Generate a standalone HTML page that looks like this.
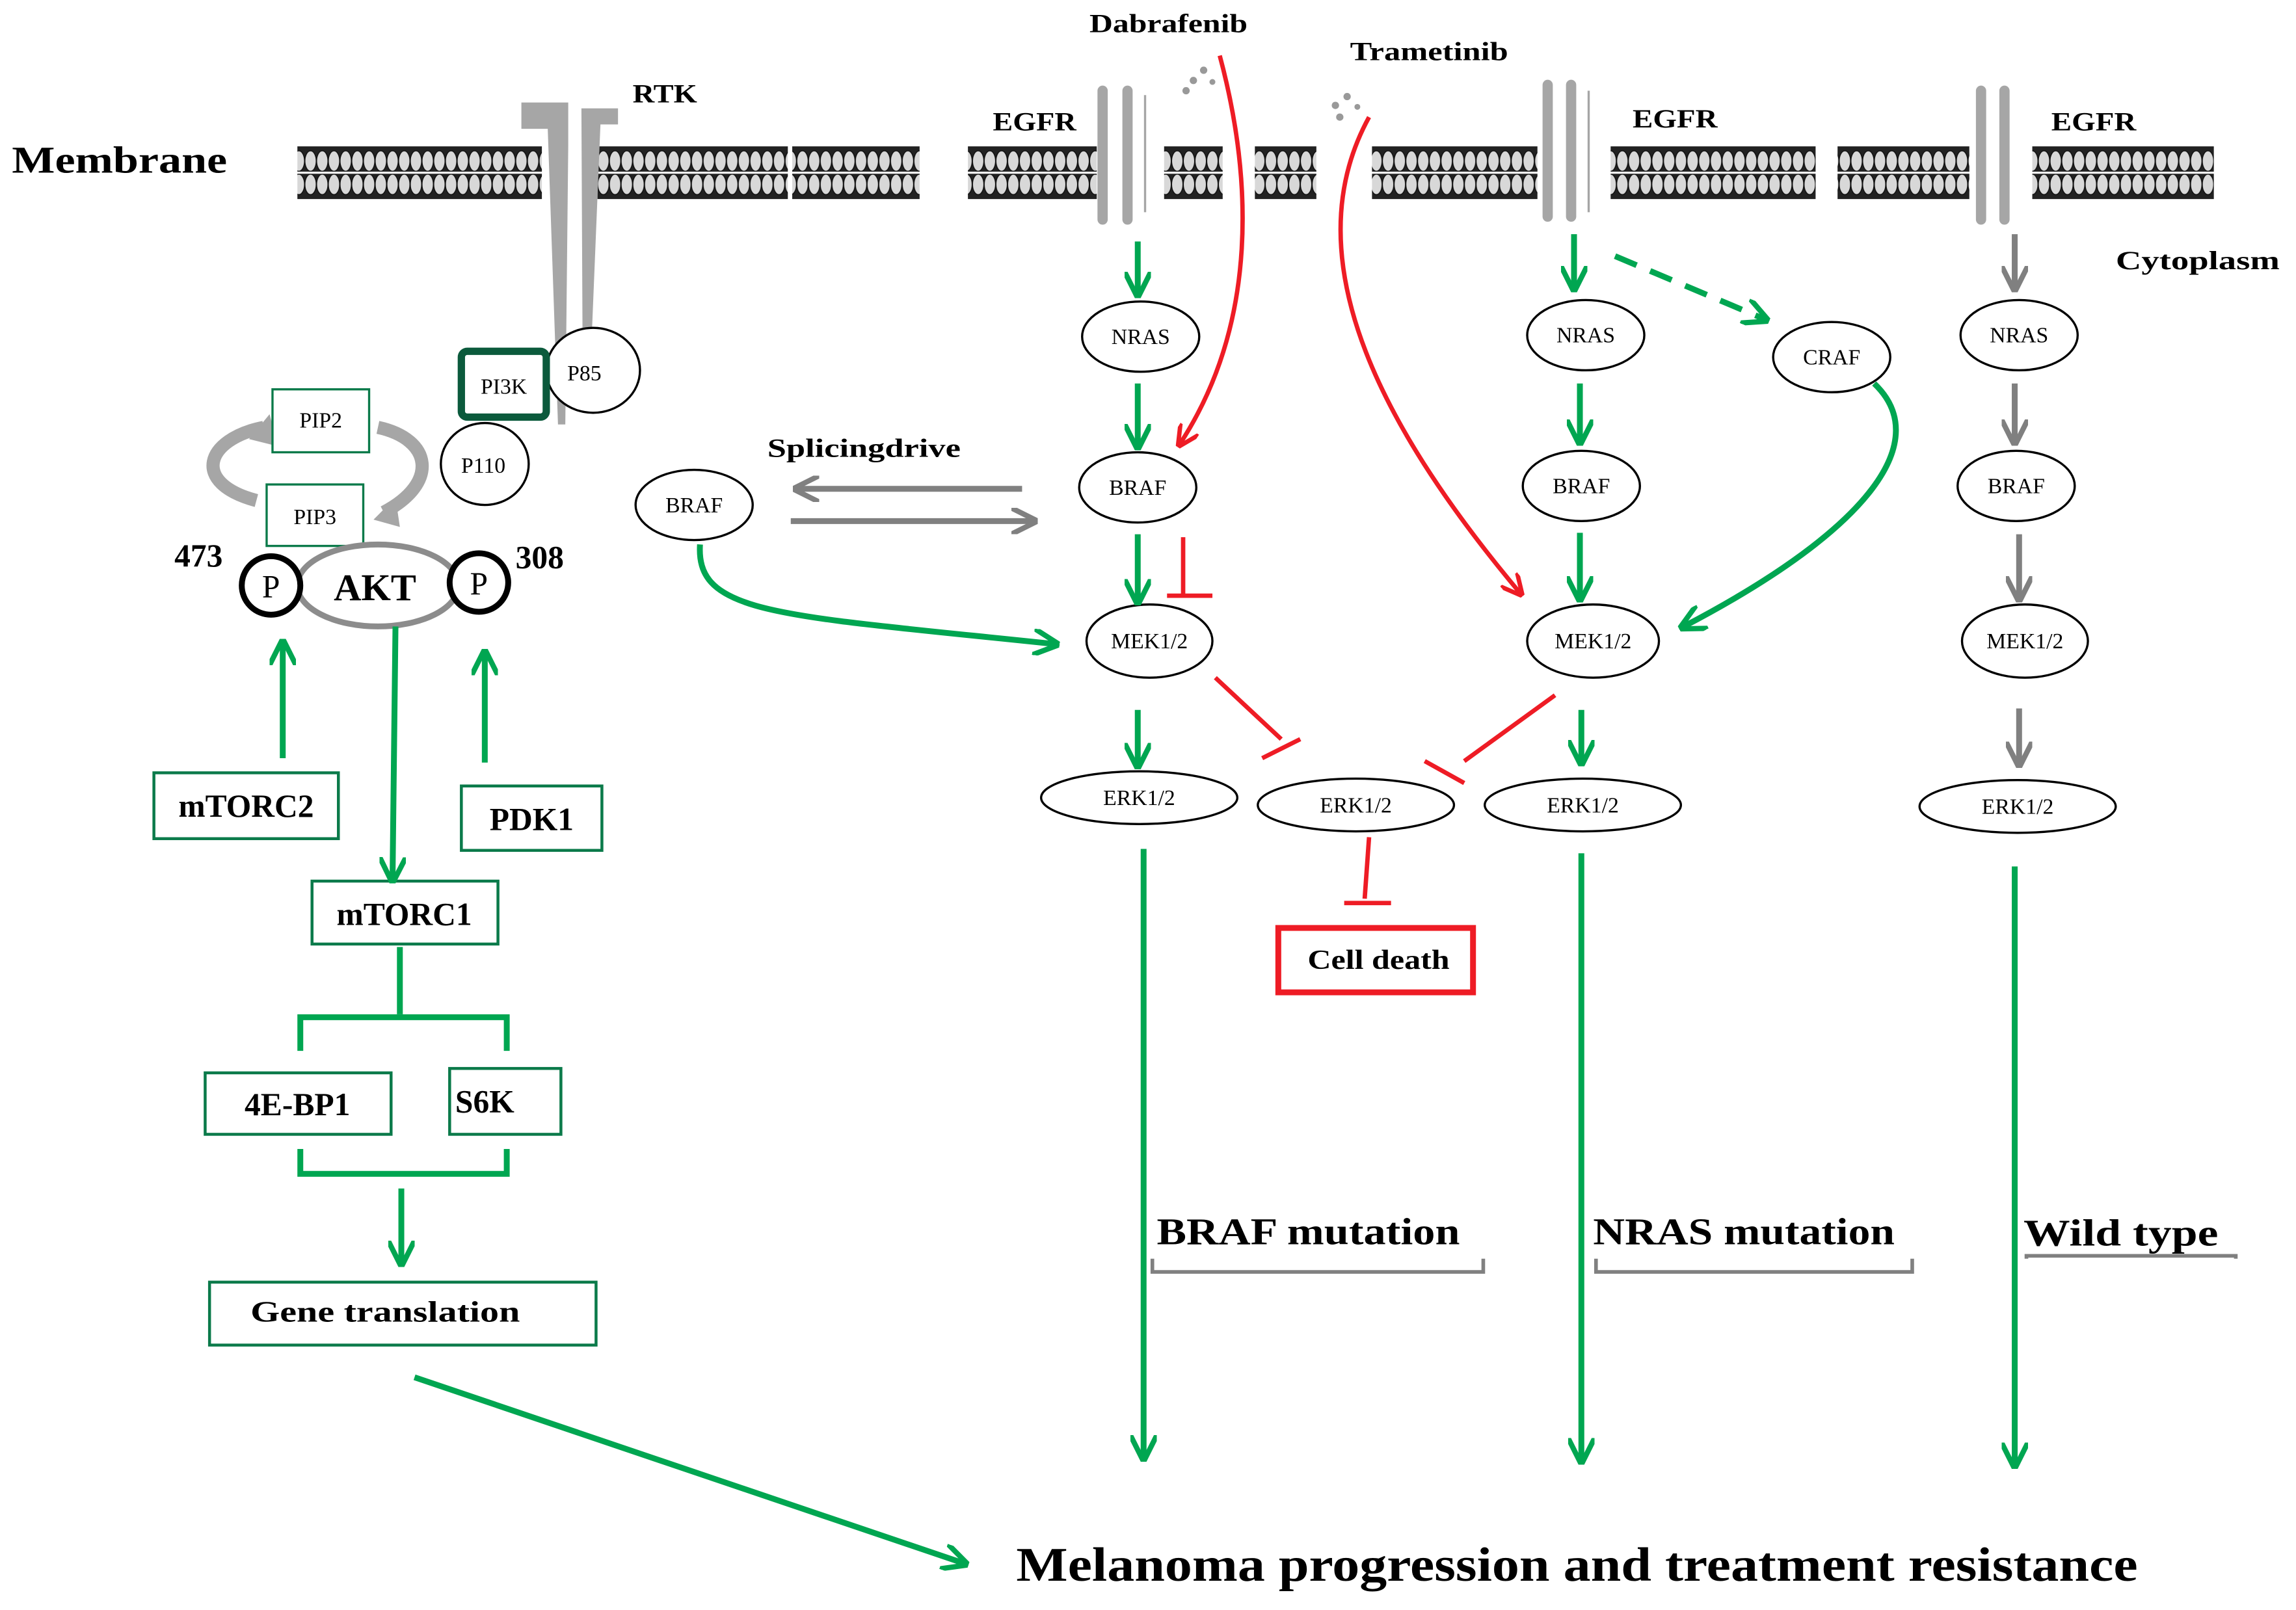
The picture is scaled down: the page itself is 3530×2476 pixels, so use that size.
<!DOCTYPE html>
<html><head><meta charset="utf-8"><style>html,body{margin:0;padding:0;background:#fff}svg{display:block}</style></head>
<body>
<svg width="3530" height="2476" viewBox="0 0 1568 1100" xmlns="http://www.w3.org/2000/svg" font-family="Liberation Serif, serif" font-weight="bold">
<defs>
<pattern id="mem" x="0" y="100" width="8" height="36" patternUnits="userSpaceOnUse">
<rect width="8" height="36" fill="#222"/>
<ellipse cx="4" cy="10" rx="3.9" ry="7" fill="#d8d8d8" stroke="#111" stroke-width="0.7"/>
<ellipse cx="4" cy="26" rx="3.9" ry="7" fill="#d8d8d8" stroke="#111" stroke-width="0.7"/>
<rect y="17.3" width="8" height="1.4" fill="#fff"/>
</pattern>
<marker id="ag" viewBox="0 0 10 10" refX="8" refY="5" markerWidth="4.5" markerHeight="4.5" orient="auto"><path d="M0,0 L10,5 L0,10" fill="none" stroke="#00a651" stroke-width="2"/></marker>
<marker id="agr" viewBox="0 0 10 10" refX="8" refY="5" markerWidth="4.5" markerHeight="4.5" orient="auto"><path d="M0,0 L10,5 L0,10" fill="none" stroke="#808080" stroke-width="2"/></marker>
<marker id="ar" viewBox="0 0 10 10" refX="8" refY="5" markerWidth="5" markerHeight="5" orient="auto"><path d="M0,0 L10,5 L0,10" fill="none" stroke="#ee1c25" stroke-width="2"/></marker>
</defs>
<g fill="url(#mem)">
<rect x="203" y="100" width="167" height="36"/><rect x="408" y="100" width="130" height="36"/><rect x="541" y="100" width="87" height="36"/>
<rect x="661" y="100" width="88" height="36"/><rect x="795" y="100" width="40" height="36"/><rect x="857" y="100" width="42" height="36"/>
<rect x="937" y="100" width="113" height="36"/><rect x="1100" y="100" width="140" height="36"/><rect x="1255" y="100" width="90" height="36"/><rect x="1388" y="100" width="124" height="36"/>
</g>
<g fill="#a6a6a6">
<path d="M356,70 H388 V100 L386,290 L381,290 L374,88 H356Z"/>
<path d="M397,74 H422 V85 H410 L402,280 L398,280 Z"/>
</g>
<g stroke="#a6a6a6" stroke-width="7" stroke-linecap="round"><line x1="753" y1="62" x2="753" y2="150"/><line x1="770" y1="62" x2="770" y2="150"/>
<line x1="1057" y1="58" x2="1057" y2="148"/><line x1="1073" y1="58" x2="1073" y2="148"/>
<line x1="1353" y1="62" x2="1353" y2="150"/><line x1="1369" y1="62" x2="1369" y2="150"/></g>
<g stroke="#a6a6a6" stroke-width="1.5"><line x1="782" y1="65" x2="782" y2="145"/><line x1="1085" y1="62" x2="1085" y2="145"/></g>
<g fill="#999"><circle cx="815" cy="55" r="2.5"/><circle cx="822" cy="48" r="2.5"/><circle cx="810" cy="62" r="2.5"/><circle cx="828" cy="56" r="2"/><circle cx="912" cy="72" r="2.5"/><circle cx="920" cy="66" r="2.5"/><circle cx="927" cy="73" r="2"/><circle cx="915" cy="80" r="2.5"/></g>
<g fill="#000" font-size="18" lengthAdjust="spacingAndGlyphs">
<text x="744" y="22" textLength="108" lengthAdjust="spacingAndGlyphs">Dabrafenib</text>
<text x="922" y="41" textLength="108" lengthAdjust="spacingAndGlyphs">Trametinib</text>
<text x="432" y="70" textLength="44" lengthAdjust="spacingAndGlyphs">RTK</text>
<text x="678" y="89" textLength="57" lengthAdjust="spacingAndGlyphs">EGFR</text>
<text x="1115" y="87" textLength="58" lengthAdjust="spacingAndGlyphs">EGFR</text>
<text x="1401" y="89" textLength="58" lengthAdjust="spacingAndGlyphs">EGFR</text>
<text x="1445" y="184" textLength="112" lengthAdjust="spacingAndGlyphs">Cytoplasm</text>
<text x="524" y="312" textLength="132" lengthAdjust="spacingAndGlyphs">Splicingdrive</text>
</g>
<text x="8" y="118" font-size="26" textLength="147" lengthAdjust="spacingAndGlyphs">Membrane</text>
<g fill="#fff" stroke="#000" stroke-width="1.5">
<ellipse cx="779" cy="230" rx="40" ry="24"/><ellipse cx="777" cy="333" rx="40" ry="24"/><ellipse cx="474" cy="345" rx="40" ry="24"/>
<ellipse cx="785" cy="438" rx="43" ry="25"/><ellipse cx="778" cy="545" rx="67" ry="18"/><ellipse cx="926" cy="550" rx="67" ry="18"/>
<ellipse cx="1083" cy="229" rx="40" ry="24"/><ellipse cx="1080" cy="332" rx="40" ry="24"/><ellipse cx="1088" cy="438" rx="45" ry="25"/><ellipse cx="1081" cy="550" rx="67" ry="18"/>
<ellipse cx="1251" cy="244" rx="40" ry="24"/>
<ellipse cx="1379" cy="229" rx="40" ry="24"/><ellipse cx="1377" cy="332" rx="40" ry="24"/><ellipse cx="1383" cy="438" rx="43" ry="25"/><ellipse cx="1378" cy="551" rx="67" ry="18"/>
<ellipse cx="405" cy="253" rx="32" ry="29"/><ellipse cx="331" cy="317" rx="30" ry="28"/>
</g>
<g font-size="15" text-anchor="middle" fill="#000" font-weight="normal">
<text x="779" y="235">NRAS</text><text x="777" y="338">BRAF</text><text x="474" y="350">BRAF</text><text x="785" y="443">MEK1/2</text><text x="778" y="550">ERK1/2</text><text x="926" y="555">ERK1/2</text>
<text x="1083" y="234">NRAS</text><text x="1080" y="337">BRAF</text><text x="1088" y="443">MEK1/2</text><text x="1081" y="555">ERK1/2</text><text x="1251" y="249">CRAF</text>
<text x="1379" y="234">NRAS</text><text x="1377" y="337">BRAF</text><text x="1383" y="443">MEK1/2</text><text x="1378" y="556">ERK1/2</text>
<text x="399" y="260">P85</text><text x="330" y="323">P110</text>
</g>
<rect x="315" y="240" width="58" height="45" rx="4" fill="#fff" stroke="#0b5a3c" stroke-width="5"/>
<text x="344" y="269" font-size="15" text-anchor="middle" font-weight="normal">PI3K</text>
<g fill="none" stroke="#a6a6a6" stroke-width="9">
<path d="M180,292 C140,300 130,330 175,342"/><path d="M258,292 C295,300 300,330 262,350"/></g>
<path d="M184,283 L170,300 L190,305Z" fill="#a6a6a6"/><path d="M255,355 L270,340 L273,360Z" fill="#a6a6a6"/>
<g fill="#fff" stroke="#0b7a4a" stroke-width="1.5"><rect x="186" y="266" width="66" height="43"/><rect x="182" y="331" width="66" height="42"/></g>
<g font-size="15" text-anchor="middle" font-weight="normal"><text x="219" y="292">PIP2</text><text x="215" y="358">PIP3</text></g>
<ellipse cx="258" cy="400" rx="55" ry="28" fill="#fff" stroke="#8c8c8c" stroke-width="4"/>
<text x="256" y="410" font-size="26" text-anchor="middle">AKT</text>
<g fill="#fff" stroke="#000" stroke-width="4"><circle cx="185" cy="400" r="20"/><circle cx="327" cy="398" r="20"/></g>
<g font-size="22" text-anchor="middle" font-weight="normal"><text x="185" y="408">P</text><text x="327" y="406">P</text></g>
<g font-size="22"><text x="119" y="387">473</text><text x="352" y="388">308</text></g>
<g fill="#fff" stroke="#0b7a4a" stroke-width="2">
<rect x="105" y="528" width="126" height="45"/><rect x="315" y="537" width="96" height="44"/><rect x="213" y="602" width="127" height="43"/>
<rect x="140" y="733" width="127" height="42"/><rect x="307" y="730" width="76" height="45"/><rect x="143" y="876" width="264" height="43"/>
</g>
<g font-size="22" text-anchor="middle"><text x="168" y="558">mTORC2</text><text x="363" y="567">PDK1</text><text x="276" y="632">mTORC1</text>
<text x="203" y="762">4E-BP1</text><text x="331" y="760">S6K</text></g>
<text x="171" y="903" font-size="20" textLength="184" lengthAdjust="spacingAndGlyphs">Gene  translation</text>
<g stroke="#00a651" stroke-width="4" fill="none">
<line x1="193" y1="518" x2="193" y2="440" marker-end="url(#ag)"/>
<line x1="331" y1="521" x2="331" y2="447" marker-end="url(#ag)"/>
<line x1="270" y1="428" x2="268" y2="600" marker-end="url(#ag)"/>
<line x1="273" y1="647" x2="273" y2="693"/>
<path d="M205,718 V695 H346 V718"/>
<path d="M205,785 V802 H346 V785"/>
<line x1="274" y1="812" x2="274" y2="862" marker-end="url(#ag)"/>
<line x1="283" y1="941" x2="658" y2="1068" marker-end="url(#ag)"/>
<path d="M478,372 C475,420 530,420 720,440" marker-end="url(#ag)"/>
<line x1="777" y1="165" x2="777" y2="200" marker-end="url(#ag)"/>
<line x1="777" y1="262" x2="777" y2="304" marker-end="url(#ag)"/>
<line x1="777" y1="365" x2="777" y2="410" marker-end="url(#ag)"/>
<line x1="777" y1="485" x2="777" y2="522" marker-end="url(#ag)"/>
<line x1="781" y1="580" x2="781" y2="995" marker-end="url(#ag)"/>
<line x1="1075" y1="160" x2="1075" y2="196" marker-end="url(#ag)"/>
<line x1="1079" y1="262" x2="1079" y2="301" marker-end="url(#ag)"/>
<line x1="1079" y1="364" x2="1079" y2="408" marker-end="url(#ag)"/>
<line x1="1080" y1="485" x2="1080" y2="520" marker-end="url(#ag)"/>
<line x1="1080" y1="583" x2="1080" y2="997" marker-end="url(#ag)"/>
<line x1="1103" y1="175" x2="1205" y2="218" stroke-dasharray="16,10" marker-end="url(#ag)"/>
<path d="M1280,262 C1320,300 1280,360 1150,428" marker-end="url(#ag)"/>
<line x1="1376" y1="592" x2="1376" y2="1000" marker-end="url(#ag)"/>
</g>
<g stroke="#808080" stroke-width="4" fill="none">
<line x1="698" y1="334" x2="545" y2="334" marker-end="url(#agr)"/>
<line x1="540" y1="356" x2="705" y2="356" marker-end="url(#agr)"/>
<line x1="1376" y1="160" x2="1376" y2="196" marker-end="url(#agr)"/>
<line x1="1376" y1="262" x2="1376" y2="301" marker-end="url(#agr)"/>
<line x1="1379" y1="365" x2="1379" y2="408" marker-end="url(#agr)"/>
<line x1="1379" y1="484" x2="1379" y2="521" marker-end="url(#agr)"/>
</g>
<g stroke="#ee1c25" stroke-width="3" fill="none">
<path d="M833,38 C855,120 860,220 806,303" marker-end="url(#ar)"/>
<path d="M935,80 C880,180 950,300 1038,405" marker-end="url(#ar)"/>
<line x1="808" y1="367" x2="808" y2="407"/><line x1="797" y1="407" x2="828" y2="407"/>
<line x1="830" y1="463" x2="875" y2="505"/><line x1="862" y1="518" x2="888" y2="505"/>
<line x1="1062" y1="475" x2="1000" y2="520"/><line x1="973" y1="520" x2="1000" y2="535"/>
<line x1="935" y1="572" x2="932" y2="614"/><line x1="918" y1="617" x2="950" y2="617"/>
</g>
<rect x="873" y="634" width="133" height="44" fill="#fff" stroke="#ee1c25" stroke-width="4"/>
<text x="893" y="662" font-size="19" textLength="97" lengthAdjust="spacingAndGlyphs">Cell death</text>
<g font-size="26">
<text x="790" y="850" textLength="207" lengthAdjust="spacingAndGlyphs">BRAF mutation</text>
<text x="1088" y="850" textLength="206" lengthAdjust="spacingAndGlyphs">NRAS mutation</text>
<text x="1382" y="851" textLength="133" lengthAdjust="spacingAndGlyphs">Wild  type</text></g>
<g stroke="#808080" stroke-width="2.5" fill="none"><path d="M787,860 V869 H1013 V860"/><path d="M1090,860 V869 H1306 V860"/><path d="M1384,860 V858 H1527 V860"/></g>
<text x="694" y="1080" font-size="33" textLength="766" lengthAdjust="spacingAndGlyphs">Melanoma progression and treatment resistance</text>
</svg>
</body></html>
